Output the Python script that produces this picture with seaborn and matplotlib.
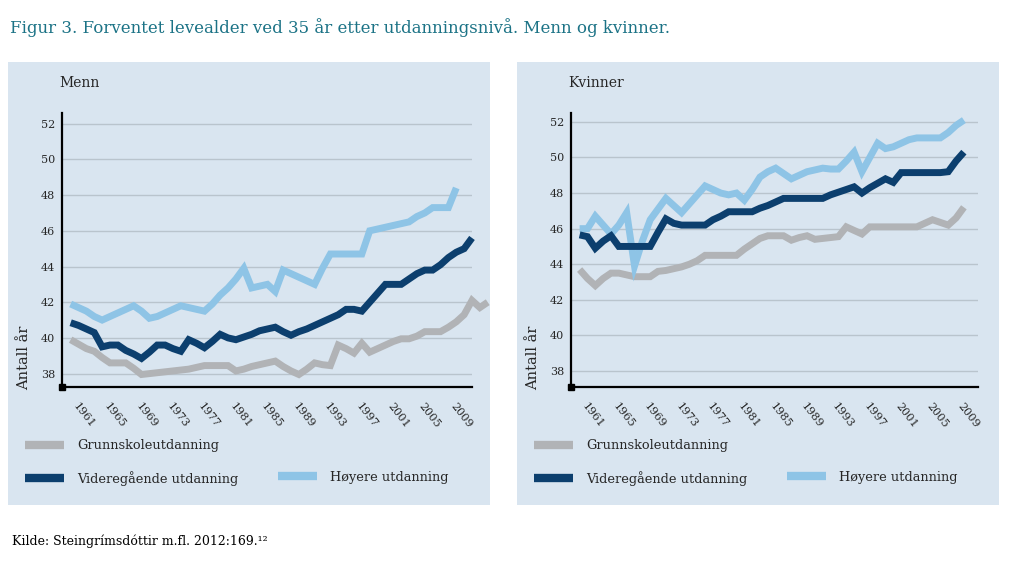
import numpy as np
import pandas as pd
import matplotlib
matplotlib.use("Agg")
import matplotlib.pyplot as plt
from matplotlib.lines import Line2D
from matplotlib.patches import Rectangle
import seaborn as sns

# Forventet levealder ved 35 år (antall år)
menn_start = 1960
menn_grunnskole = [39.9, 39.65, 39.4, 39.25, 38.9, 38.6, 38.6, 38.6, 38.3, 37.95,
                   38.0, 38.05, 38.1, 38.15, 38.2, 38.25, 38.35, 38.45, 38.45, 38.45,
                   38.45, 38.15, 38.25, 38.4, 38.5, 38.6, 38.7, 38.4, 38.15, 37.95,
                   38.25, 38.6, 38.5, 38.45, 39.6, 39.4, 39.15, 39.7, 39.2, 39.4,
                   39.6, 39.8, 39.95, 39.95, 40.1, 40.35, 40.35, 40.35, 40.6, 40.9,
                   41.3, 42.1, 41.7, 42.0]
menn_videregaende = [40.85, 40.7, 40.5, 40.3, 39.5, 39.6, 39.6, 39.3, 39.1, 38.85,
                     39.2, 39.6, 39.6, 39.4, 39.25, 39.9, 39.7, 39.45, 39.8, 40.2,
                     40.0, 39.9, 40.05, 40.2, 40.4, 40.5, 40.6, 40.35, 40.15, 40.35,
                     40.5, 40.7, 40.9, 41.1, 41.3, 41.6, 41.6, 41.5, 42.0, 42.5,
                     43.0, 43.0, 43.0, 43.3, 43.6, 43.8, 43.8, 44.1, 44.5, 44.8,
                     45.0, 45.6]
menn_hoyere = [41.9, 41.7, 41.5, 41.2, 41.0, 41.2, 41.4, 41.6, 41.8, 41.5,
               41.1, 41.2, 41.4, 41.6, 41.8, 41.7, 41.6, 41.5, 41.9, 42.4,
               42.8, 43.3, 43.9, 42.8, 42.9, 43.0, 42.6, 43.8, 43.6, 43.4,
               43.2, 43.0, 43.9, 44.7, 44.7, 44.7, 44.7, 44.7, 46.0, 46.1,
               46.2, 46.3, 46.4, 46.5, 46.8, 47.0, 47.3, 47.3, 47.3, 48.4]

kvinner_start = 1960
kvinner_grunnskole = [43.7, 43.2, 42.8, 43.2, 43.5, 43.5, 43.4, 43.3, 43.3, 43.3,
                      43.6, 43.65, 43.75, 43.85, 44.0, 44.2, 44.5, 44.5, 44.5, 44.5,
                      44.5, 44.85, 45.15, 45.45, 45.6, 45.6, 45.6, 45.35, 45.5, 45.6,
                      45.4, 45.45, 45.5, 45.55, 46.1, 45.9, 45.7, 46.1, 46.1, 46.1,
                      46.1, 46.1, 46.1, 46.1, 46.3, 46.5, 46.35, 46.2, 46.6, 47.2]
kvinner_videregaende = [45.65, 45.55, 44.9, 45.3, 45.6, 45.0, 45.0, 45.0, 45.0, 45.0,
                        45.8, 46.55, 46.3, 46.2, 46.2, 46.2, 46.2, 46.5, 46.7, 46.95,
                        46.95, 46.95, 46.95, 47.15, 47.3, 47.5, 47.7, 47.7, 47.7, 47.7,
                        47.7, 47.7, 47.9, 48.05, 48.2, 48.35, 48.0, 48.3, 48.55, 48.8,
                        48.6, 49.15, 49.15, 49.15, 49.15, 49.15, 49.15, 49.2, 49.8, 50.3]
kvinner_hoyere = [46.0, 46.0, 46.7, 46.2, 45.7, 46.2, 46.9, 43.9, 45.3, 46.5,
                  47.1, 47.7, 47.3, 46.9, 47.4, 47.9, 48.4, 48.2, 48.0, 47.9,
                  48.0, 47.6, 48.2, 48.9, 49.2, 49.4, 49.1, 48.8, 49.0, 49.2,
                  49.3, 49.4, 49.35, 49.35, 49.8, 50.3, 49.2, 50.0, 50.8, 50.5,
                  50.6, 50.8, 51.0, 51.1, 51.1, 51.1, 51.1, 51.4, 51.8, 52.1]

levels = ["Grunnskoleutdanning", "Videregående utdanning", "Høyere utdanning"]
colors = {"Grunnskoleutdanning": "#b1b3b6",
          "Videregående utdanning": "#0c3f6e",
          "Høyere utdanning": "#8ec4e6"}
x_ticks = list(range(1961, 2010, 4))
y_ticks = [38, 40, 42, 44, 46, 48, 50, 52]

title = "Figur 3. Forventet levealder ved 35 år etter utdanningsnivå. Menn og kvinner."
source = "Kilde: Steingrímsdóttir m.fl. 2012:169.\u00b9\u00b2"


def to_long(start, series):
    rows = []
    for level, values in zip(levels, series):
        for i, v in enumerate(values):
            rows.append({"År": start + i, "Antall år": v, "Nivå": level})
    return pd.DataFrame(rows)


df_menn = to_long(menn_start, [menn_grunnskole, menn_videregaende, menn_hoyere])
df_kvinner = to_long(kvinner_start, [kvinner_grunnskole, kvinner_videregaende, kvinner_hoyere])

sns.set_theme(style="white")
plt.rcParams["font.family"] = ["DejaVu Serif"]

BG = "#d9e5f0"
GRID = "#b9c4cd"

fig = plt.figure(figsize=(10.24, 5.65), dpi=100)
fig.patch.set_facecolor("white")

# panel backgrounds
for x0 in (8 / 1024, 517 / 1024):
    fig.patches.append(Rectangle((x0, 1 - 505 / 565), 482 / 1024, 443 / 565,
                                 transform=fig.transFigure, facecolor=BG,
                                 edgecolor="none", zorder=-10))

fig.text(10 / 1024, 1 - 33 / 565, title, color="#1c7386", fontsize=12,
         va="baseline", ha="left")
fig.text(12 / 1024, 1 - 545 / 565, source, color="black", fontsize=9,
         va="baseline", ha="left")

panels = [
    ("Menn", df_menn, [62 / 1024, 1 - 387 / 565, 410 / 1024, 274 / 565], (37.25, 52.6), 2011.0, 8),
    ("Kvinner", df_kvinner, [571 / 1024, 1 - 387 / 565, 407 / 1024, 274 / 565], (37.1, 52.5), 2010.8, 517),
]

for name, df, rect, ylim, xmax, px in panels:
    ax = fig.add_axes(rect)
    ax.set_facecolor("none")
    ax.set_zorder(1)
    sns.lineplot(data=df, x="År", y="Antall år", hue="Nivå",
                 hue_order=["Grunnskoleutdanning", "Høyere utdanning", "Videregående utdanning"],
                 palette=colors, linewidth=5, estimator=None, legend=False, ax=ax)
    for ln in ax.get_lines():
        ln.set_solid_capstyle("butt")
        ln.set_solid_joinstyle("miter")
        ln.set_clip_on(False)
        ln.set_zorder(3)

    ax.set_xlim(1958.9, xmax)
    ax.set_ylim(*ylim)
    ax.set_yticks(y_ticks)
    ax.set_xticks(x_ticks)
    ax.set_xticklabels([str(t) for t in x_ticks], rotation=-52, ha="left",
                       va="top", rotation_mode="anchor", fontsize=8)
    ax.tick_params(axis="x", length=6, width=1.5, direction="out", color="black", pad=4)
    ax.tick_params(axis="y", length=0, pad=5, labelsize=8)
    ax.grid(axis="y", color=GRID, linewidth=1)
    ax.grid(axis="x", visible=False)
    for s in ("top", "right"):
        ax.spines[s].set_visible(False)
    for s in ("left", "bottom"):
        ax.spines[s].set_color("black")
        ax.spines[s].set_linewidth(1.6)
    ax.set_xlabel("")
    ax.set_ylabel("Antall år", fontsize=10.5, loc="bottom")
    ax.yaxis.set_label_coords(-0.075, -0.01)
    ax.plot([0], [0], marker="s", color="black", markersize=5,
            transform=ax.transAxes, clip_on=False, zorder=5)

    fig.text((px + 51) / 1024, 1 - 83 / 565, name, fontsize=10,
             va="center", ha="left")

    handles = [Line2D([], [], color=colors[levels[0]], lw=6, solid_capstyle="butt"),
               Line2D([], [], color=colors[levels[1]], lw=6, solid_capstyle="butt"),
               Line2D([], [], color="none", lw=0),
               Line2D([], [], color=colors[levels[2]], lw=6, solid_capstyle="butt")]
    labels = [levels[0], levels[1], "", levels[2]]
    ax.legend(handles, labels, ncol=2, frameon=False, loc="upper left",
              bbox_to_anchor=((px + 12) / 1024, 1 - 434 / 565),
              bbox_transform=fig.transFigure, fontsize=9.3,
              handlelength=3.0, handletextpad=1.0, labelspacing=1.45,
              columnspacing=3.1, borderaxespad=0)

fig.savefig("out.png", dpi=100)
